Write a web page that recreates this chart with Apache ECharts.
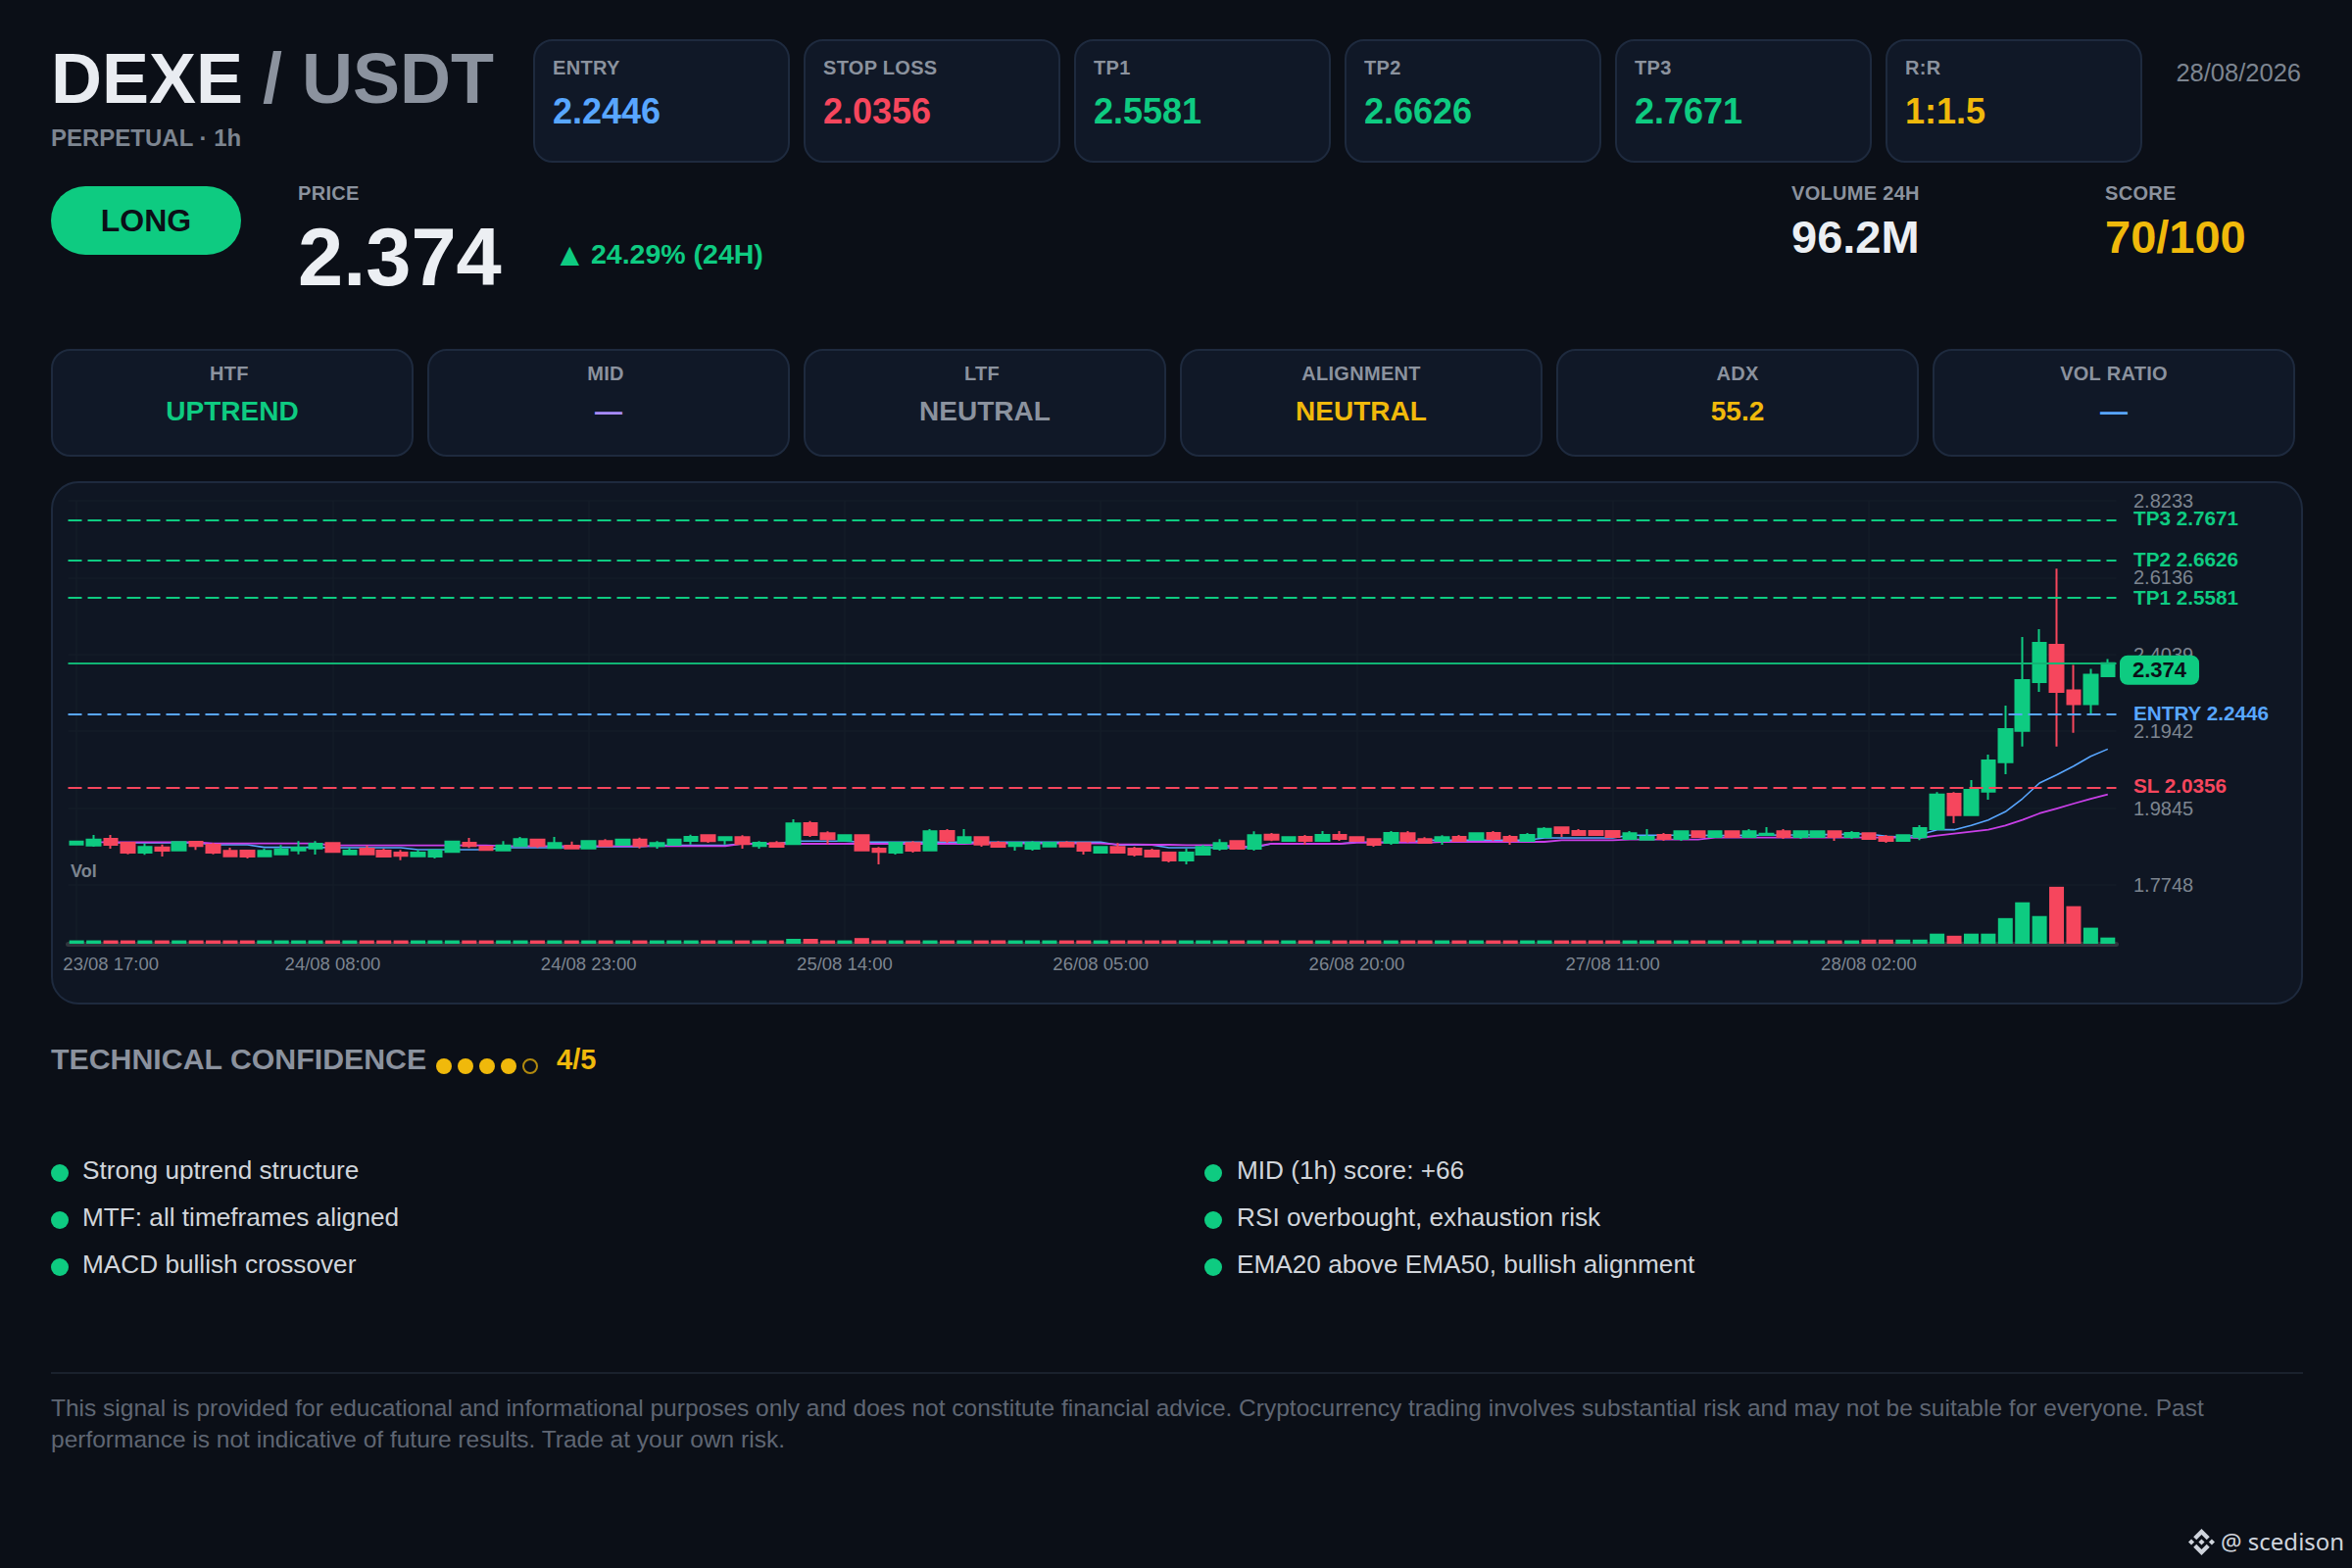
<!DOCTYPE html>
<html><head><meta charset="utf-8">
<script src="https://cdn.jsdelivr.net/npm/echarts@6/dist/echarts.min.js"></script>
<style>
*{box-sizing:border-box;margin:0;padding:0}
html,body{width:2400px;height:1600px;background:#0b0f17;overflow:hidden;font-family:"Liberation Sans",Arial,sans-serif}
.t{position:absolute;white-space:nowrap;line-height:1}
.card{position:absolute;background:#101827;border:2px solid #1e2a3e;border-radius:20px}
.mid{transform:translateY(-50%)}
.ctr{transform:translate(-50%,-50%)}
.g{color:#0ecb81}.r{color:#f6465d}.b{color:#58a6ff}.y{color:#f0b90b}.gr{color:#8b929e}.pu{color:#a78bfa}
.dot{position:absolute;border-radius:50%}
#chart{position:absolute;left:0;top:0;width:2400px;height:1600px}
</style></head><body>
<div id="page"></div>
<div class="card" style="left:52px;top:491px;width:2298px;height:534px;border-radius:28px;background:#0f1623"></div>
<div id="chart"></div>
<script>
const firstHour = {day:23, hour:17};
const yTicks = [1.7748,1.9845,2.1942,2.4039,2.6136,2.8233];
const tp3 = 2.7671, tp2 = 2.6626, tp1 = 2.5581, entry = 2.2446, stopLoss = 2.0356;
const lastPriceLine = 2.38, lastPriceText = '2.374';
const opens = [
1.8854,1.8827,1.9005,1.8899,1.8631,1.8774,1.8694,1.8925,1.8845,1.8676,
1.8685,1.8533,1.8587,1.8694,1.8747,1.8890,1.8587,1.8738,1.8685,1.8631,
1.8533,1.8524,1.8649,1.8899,1.8792,1.8694,1.8809,1.8988,1.8756,1.8818,
1.8747,1.8943,1.8845,1.8988,1.8809,1.8845,1.8952,1.9104,1.8970,1.9050,
1.8809,1.8890,1.8863,1.9433,1.9157,1.8961,1.9104,1.8738,1.8631,1.8890,
1.8694,1.9219,1.8899,1.9050,1.8899,1.8809,1.8738,1.8801,1.8899,1.8890,
1.8631,1.8783,1.8738,1.8685,1.8631,1.8417,1.8578,1.8738,1.8943,1.8738,
1.9121,1.8952,1.9059,1.8952,1.9112,1.9050,1.8997,1.8899,1.9157,1.8997,
1.8952,1.9059,1.8988,1.9166,1.9059,1.8952,1.9059,1.9317,1.9219,1.9219,
1.9219,1.9005,1.8988,1.9112,1.9005,1.9210,1.9059,1.9210,1.9059,1.9112,
1.9210,1.9059,1.9059,1.9210,1.9059,1.9157,1.9059,1.8952,1.9050,1.9273,
2.0235,1.9656,2.0297,2.1099,2.1955,2.3282,2.4298,2.3060,2.2685,2.3443];
const closes = [
1.8934,1.8988,1.8845,1.8631,1.8783,1.8685,1.8917,1.8809,1.8631,1.8533,
1.8524,1.8676,1.8720,1.8765,1.8872,1.8649,1.8685,1.8587,1.8524,1.8542,
1.8631,1.8694,1.8934,1.8809,1.8703,1.8827,1.8997,1.8809,1.8890,1.8747,
1.8943,1.8809,1.8988,1.8809,1.8890,1.8988,1.9059,1.8943,1.9050,1.8863,
1.8899,1.8792,1.9424,1.9112,1.8997,1.9104,1.8694,1.8649,1.8899,1.8685,
1.9210,1.8961,1.9050,1.8854,1.8792,1.8899,1.8899,1.8899,1.8801,1.8685,
1.8783,1.8631,1.8578,1.8524,1.8417,1.8631,1.8783,1.8890,1.8738,1.9104,
1.8988,1.9050,1.8952,1.9112,1.9005,1.8952,1.8845,1.9166,1.8952,1.8899,
1.9050,1.8952,1.9157,1.9005,1.8952,1.9112,1.9282,1.9166,1.9112,1.9112,
1.9059,1.9157,1.9059,1.9005,1.9210,1.9059,1.9210,1.9059,1.9210,1.9148,
1.9059,1.9210,1.9210,1.9059,1.9166,1.9005,1.8952,1.9104,1.9300,2.0217,
1.9656,2.0342,2.1144,2.1999,2.3336,2.4352,2.3015,2.2685,2.3487,2.3799];
const lows = [
1.8854,1.8792,1.8738,1.8587,1.8569,1.8524,1.8694,1.8703,1.8587,1.8533,
1.8471,1.8533,1.8587,1.8587,1.8578,1.8649,1.8587,1.8587,1.8524,1.8426,
1.8533,1.8471,1.8631,1.8756,1.8703,1.8694,1.8792,1.8756,1.8756,1.8747,
1.8747,1.8809,1.8845,1.8747,1.8738,1.8845,1.8854,1.8899,1.8854,1.8738,
1.8738,1.8792,1.8863,1.9059,1.8854,1.8961,1.8676,1.8310,1.8578,1.8631,
1.8694,1.8899,1.8899,1.8792,1.8792,1.8685,1.8685,1.8801,1.8801,1.8578,
1.8631,1.8631,1.8524,1.8524,1.8364,1.8310,1.8578,1.8685,1.8738,1.8685,
1.8943,1.8952,1.8845,1.8952,1.8952,1.8952,1.8792,1.8845,1.8899,1.8899,
1.8845,1.8952,1.8988,1.8952,1.8845,1.8952,1.9059,1.9059,1.9112,1.9112,
1.9059,1.9005,1.8988,1.8952,1.8952,1.9059,1.9059,1.9059,1.9059,1.9112,
1.9005,1.9005,1.9059,1.8952,1.9005,1.9005,1.8899,1.8952,1.8970,1.9255,
1.9433,1.9656,2.0075,2.0770,2.1527,2.3015,2.1527,2.1901,2.2391,2.3443];
const highs = [
1.8934,1.9112,1.9112,1.8899,1.8872,1.8854,1.8917,1.8925,1.8899,1.8765,
1.8685,1.8738,1.8836,1.8943,1.8943,1.8890,1.8765,1.8827,1.8738,1.8703,
1.8703,1.8694,1.8952,1.9032,1.8809,1.8943,1.9059,1.8988,1.9059,1.8934,
1.8943,1.8997,1.8988,1.9041,1.8943,1.8988,1.9121,1.9104,1.9050,1.9104,
1.8943,1.8943,1.9540,1.9496,1.9210,1.9104,1.9104,1.8783,1.8899,1.8943,
1.9273,1.9273,1.9273,1.9050,1.8943,1.8899,1.8943,1.8899,1.8943,1.8890,
1.8783,1.8890,1.8792,1.8738,1.8631,1.8738,1.8836,1.8997,1.8943,1.9210,
1.9166,1.9050,1.9112,1.9219,1.9219,1.9050,1.8997,1.9219,1.9219,1.9050,
1.9104,1.9112,1.9157,1.9219,1.9112,1.9166,1.9326,1.9317,1.9273,1.9219,
1.9219,1.9219,1.9273,1.9166,1.9210,1.9210,1.9210,1.9210,1.9273,1.9326,
1.9273,1.9210,1.9210,1.9210,1.9219,1.9157,1.9112,1.9104,1.9380,2.0280,
2.0280,2.0609,2.1304,2.2641,2.4512,2.4726,2.6383,2.3755,2.3648,2.3915];
const volumes = [
1.3,1.3,1.3,1.3,1.3,1.3,1.3,1.3,1.3,1.3,
1.3,1.3,1.3,1.3,1.3,1.3,1.3,1.3,1.3,1.3,
1.3,1.3,1.3,1.3,1.3,1.3,1.3,1.3,1.3,1.3,
1.3,1.3,1.3,1.3,1.3,1.3,1.3,1.3,1.3,1.3,
1.3,1.3,1.9,1.9,1.3,1.3,2.2,1.3,1.3,1.3,
1.3,1.3,1.3,1.3,1.3,1.3,1.3,1.3,1.3,1.3,
1.3,1.3,1.3,1.3,1.3,1.3,1.3,1.3,1.3,1.3,
1.3,1.3,1.3,1.3,1.3,1.3,1.3,1.3,1.3,1.3,
1.3,1.3,1.3,1.3,1.3,1.3,1.3,1.3,1.3,1.3,
1.3,1.3,1.3,1.3,1.3,1.3,1.3,1.3,1.3,1.3,
1.3,1.3,1.3,1.3,1.3,1.6,1.6,1.6,1.6,3.9,
3.1,3.9,3.9,9.9,16.0,10.7,22.0,14.5,6.2,2.4];
const ema20 = [
null,null,1.8899,1.8899,1.8899,1.8899,1.8899,1.8899,1.8845,1.8845,
1.8845,1.8774,1.8774,1.8774,1.8774,1.8765,1.8765,1.8765,1.8765,1.8765,
1.8711,1.8711,1.8711,1.8711,1.8711,1.8765,1.8765,1.8765,1.8765,1.8765,
1.8792,1.8792,1.8792,1.8792,1.8827,1.8827,1.8827,1.8827,1.8827,1.8872,
1.8872,1.8872,1.8943,1.8943,1.8943,1.8943,1.8917,1.8917,1.8917,1.8917,
1.8917,1.8917,1.8917,1.8917,1.8917,1.8917,1.8917,1.8917,1.8917,1.8917,
1.8917,1.8836,1.8836,1.8836,1.8765,1.8765,1.8765,1.8765,1.8765,1.8765,
1.8872,1.8872,1.8872,1.8872,1.8872,1.8917,1.8917,1.8917,1.8917,1.8970,
1.8970,1.8970,1.8970,1.8970,1.8970,1.8970,1.9032,1.9032,1.9032,1.9032,
1.9032,1.9104,1.9104,1.9104,1.9104,1.9104,1.9095,1.9095,1.9104,1.9104,
1.9112,1.9112,1.9121,1.9121,1.9139,1.9139,1.9077,1.9059,1.9121,1.9255,
1.9255,1.9371,1.9522,1.9745,2.0101,2.0529,2.0752,2.0992,2.1260,2.1456];
const ema50 = [
null,1.8917,1.8917,1.8917,1.8917,1.8917,1.8917,1.8917,1.8881,1.8881,
1.8881,1.8881,1.8881,1.8881,1.8881,1.8827,1.8827,1.8827,1.8827,1.8827,
1.8827,1.8827,1.8827,1.8827,1.8827,1.8809,1.8809,1.8809,1.8809,1.8809,
1.8809,1.8809,1.8809,1.8809,1.8809,1.8809,1.8809,1.8809,1.8809,1.8872,
1.8872,1.8872,1.8872,1.8872,1.8872,1.8872,1.8872,1.8872,1.8872,1.8872,
1.8872,1.8872,1.8872,1.8881,1.8881,1.8881,1.8881,1.8881,1.8881,1.8881,
1.8881,1.8854,1.8854,1.8845,1.8845,1.8836,1.8836,1.8836,1.8792,1.8792,
1.8872,1.8872,1.8872,1.8872,1.8872,1.8899,1.8899,1.8899,1.8899,1.8899,
1.8925,1.8925,1.8925,1.8925,1.8925,1.8925,1.8925,1.8970,1.8970,1.8970,
1.8970,1.8988,1.8988,1.8988,1.8988,1.8988,1.9041,1.9041,1.9041,1.9041,
1.9041,1.9041,1.9041,1.9041,1.9041,1.9041,1.9041,1.9041,1.9032,1.9095,
1.9148,1.9202,1.9255,1.9371,1.9522,1.9701,1.9834,1.9968,2.0101,2.0217];
const signalCards = [['ENTRY','2.2446','b'],['STOP LOSS','2.0356','r'],['TP1','2.5581','g'],['TP2','2.6626','g'],['TP3','2.7671','g'],['R:R','1:1.5','y']];
const statusCards = [['HTF','UPTREND','g'],['MID','—','pu'],['LTF','NEUTRAL','gr'],['ALIGNMENT','NEUTRAL','y'],['ADX','55.2','y'],['VOL RATIO','—','b']];
const reasonsLeft = ['Strong uptrend structure','MTF: all timeframes aligned','MACD bullish crossover'];
const reasonsRight = ['MID (1h) score: +66','RSI overbought, exhaustion risk','EMA20 above EMA50, bullish alignment'];

const page = document.getElementById('page');
function add(html){page.insertAdjacentHTML('beforeend',html);}
function text(x,y,str,style,cls){add(`<div class="t ${cls||''}" style="left:${x}px;top:${y}px;${style||''}">${str}</div>`);}
const LBL='font-size:20px;font-weight:700;color:#8b929e;letter-spacing:.3px;';

text(52,80,'<span style="color:#e9ecf1">DEXE</span><span style="color:#8b929e"> / USDT</span>','font-size:72px;font-weight:700;','mid');
text(52,141,'PERPETUAL · 1h','font-size:24px;font-weight:700;color:#7d8590;','mid');
text(2348,75,'28/08/2026','font-size:25.500px;color:#7d8590;transform:translate(-100%,-50%);');
signalCards.forEach((c,i)=>{
  const x=544+276*i;
  add(`<div class="card" style="left:${x}px;top:40px;width:262px;height:126px"></div>`);
  text(x+20,69,c[0],LBL,'mid');
  text(x+20,114,c[1],'font-size:36px;font-weight:700;','mid '+c[2]);
});
add('<div style="position:absolute;left:52px;top:190px;width:194px;height:70px;border-radius:35px;background:#0ecb81"></div>');
text(149,225,'LONG','font-size:32px;font-weight:700;color:#0b0f17;','ctr');
text(304,197,'PRICE',LBL,'mid');
text(304,262,lastPriceText,'font-size:83px;font-weight:700;color:#eceff3;','mid');
text(565,259,'▲','font-size:33px;font-weight:700;','mid g');
text(603,259,'24.29% (24H)','font-size:28.500px;font-weight:700;','mid g');
text(1828,197,'VOLUME 24H',LBL,'mid');
text(1828,241,'96.2M','font-size:47px;font-weight:700;color:#eceff3;','mid');
text(2148,197,'SCORE',LBL,'mid');
text(2148,241,'70/100','font-size:47px;font-weight:700;','mid y');
statusCards.forEach((c,i)=>{
  const x=52+384*i;
  add(`<div class="card" style="left:${x}px;top:356px;width:370px;height:110px"></div>`);
  text(x+(i<3?182:185),381,c[0],LBL,'ctr');
  text(x+185,420,c[1],'font-size:28px;font-weight:700;','ctr '+c[2]);
});
text(52,1081,'TECHNICAL CONFIDENCE','font-size:30.300px;font-weight:700;color:#8b929e;','mid');
[0,1,2,3].forEach(i=>add(`<div class="dot" style="left:${444.5+22*i}px;top:1080px;width:16px;height:16px;background:#f0b90b"></div>`));
add('<div class="dot" style="left:532.5px;top:1080px;width:16px;height:16px;border:2px solid #b28a0e"></div>');
text(568,1081,'4/5','font-size:29px;font-weight:700;','mid y');
function reasons(list,dotX,textX){
  list.forEach((r,i)=>{
    const y=[1194,1242,1290][i];
    add(`<div class="dot" style="left:${dotX-9}px;top:${y-6}px;width:18px;height:18px;background:#0ecb81"></div>`);
    text(textX,y,r,'font-size:26.200px;color:#d1d5db;','mid');
  });
}
reasons(reasonsLeft,61,84);
reasons(reasonsRight,1238,1262);
add('<div style="position:absolute;left:52px;top:1400px;width:2298px;height:2px;background:#1a212d"></div>');
add('<div style="position:absolute;left:52px;top:1421px;font-size:24.500px;line-height:32px;color:#5f6673;white-space:nowrap">This signal is provided for educational and informational purposes only and does not constitute financial advice. Cryptocurrency trading involves substantial risk and may not be suitable for everyone. Past<br>performance is not indicative of future results. Trade at your own risk.</div>');
add('<svg style="position:absolute;left:2233px;top:1560px" width="27" height="27" viewBox="0 0 24 24" fill="#cfd4dc"><path d="M16.624 13.9202l2.7175 2.7154-7.353 7.353-7.353-7.352 2.7175-2.7164 4.6355 4.6595 4.6356-4.6595zm4.6366-4.6366L24 12l-2.7154 2.7164L18.5682 12l2.6924-2.7164zm-9.272.001l2.7163 2.6914-2.7164 2.7174v-.001L9.2721 12l2.7164-2.7154zm-9.2722-.001L5.4088 12l-2.6914 2.6924L0 12l2.7164-2.7164zM11.9885.0115l7.353 7.329-2.7174 2.7154-4.6356-4.6356-4.6355 4.6595-2.7174-2.7154 7.353-7.353z"/></svg>');
text(2266,1573,'@ scedison','font-size:24px;color:#cfd4dc;font-family:\'Noto Sans\';','mid');

const categories = opens.map((_,i)=>{
  const h=firstHour.hour+i, d=firstHour.day+Math.floor(h/24), hh=h%24;
  return String(d).padStart(2,'0')+'/08 '+String(hh).padStart(2,'0')+':00';
});
const UP='#0ecb81', DOWN='#f6465d', BLUE='#58a6ff', PURPLE='#c93fe8', FAINT='#151c29', AXIS='#7d8590';
const font='"Liberation Sans",Arial,sans-serif';
const lvl=(v,name,color,dy)=>({yAxis:v,lineStyle:{color,type:[14,6],width:2},
  label:{show:true,position:'end',distance:17.5,formatter:name+' '+v.toFixed(4),color,fontFamily:font,fontSize:20.700,fontWeight:700,offset:[0,dy]}});
const chart=echarts.init(document.getElementById('chart'),null,{renderer:'svg',width:2400,height:1600});
chart.setOption({
  animation:false,backgroundColor:'transparent',
  title:{text:'Vol',left:72,top:880,padding:0,textStyle:{color:AXIS,fontSize:18,fontWeight:700,fontFamily:font}},
  grid:[{left:69.5,width:2090,top:511,height:392},{left:69.5,width:2090,top:903,height:60}],
  xAxis:[
   {type:'category',gridIndex:0,data:categories,boundaryGap:true,axisLine:{show:false},axisTick:{show:false,alignWithLabel:true,interval:14},axisLabel:{show:false,interval:14},splitLine:{show:true,alignWithLabel:true,interval:14,lineStyle:{color:FAINT,width:1.5}}},
   {type:'category',gridIndex:1,data:categories,boundaryGap:true,offset:6,axisLine:{lineStyle:{color:'#30353e',width:5}},axisTick:{show:false,alignWithLabel:true,interval:14},
    axisLabel:{interval:14,color:AXIS,fontSize:18.500,fontFamily:font,margin:5,
      formatter:(v,i)=>i===0?'{first|'+v+'}':v,rich:{first:{color:AXIS,fontSize:18.500,fontFamily:font,padding:[0,0,0,70]}}},
    splitLine:{show:true,alignWithLabel:true,interval:14,lineStyle:{color:FAINT,width:1.5}}}
  ],
  yAxis:[
   {type:'value',gridIndex:0,position:'right',min:yTicks[0],max:yTicks[5],scale:true,axisLine:{show:false},
    axisTick:{show:false,customValues:yTicks},
    axisLabel:{customValues:yTicks,color:AXIS,fontSize:20,fontFamily:font,margin:17.5,formatter:v=>v.toFixed(4)},
    splitLine:{show:true,lineStyle:{color:FAINT,width:1.5}}},
   {type:'value',gridIndex:1,min:0,max:22.7,show:false,splitLine:{show:false}}
  ],
  series:[
   {type:'line',name:'EMA20',data:ema20,showSymbol:false,symbol:'none',lineStyle:{color:BLUE,width:1.6},z:2},
   {type:'line',name:'EMA50',data:ema50,showSymbol:false,symbol:'none',lineStyle:{color:PURPLE,width:1.8},z:2},
   {type:'candlestick',name:'DEXE',barWidth:14,z:3,
    data:opens.map((o,i)=>[o,closes[i],lows[i],highs[i]]),
    itemStyle:{color:UP,color0:DOWN,borderColor:UP,borderColor0:DOWN,borderWidth:2},
    markLine:{silent:true,symbol:'none',animation:false,z:6,data:[
      lvl(tp3,'TP3',UP,-2),lvl(tp2,'TP2',UP,-2),lvl(tp1,'TP1',UP,0),lvl(entry,'ENTRY',BLUE,-2),lvl(stopLoss,'SL',DOWN,-2),
      {yAxis:lastPriceLine,lineStyle:{color:'#10b574',type:'solid',width:2},
       label:{show:true,position:'end',distance:3.5,formatter:lastPriceText,offset:[0,7],backgroundColor:UP,color:'#0b0f17',fontFamily:font,fontSize:22,fontWeight:700,padding:[5,13,3,13],borderRadius:8}}
    ]}},
   {type:'bar',name:'Vol',xAxisIndex:1,yAxisIndex:1,barWidth:15,
    data:volumes.map((v,i)=>({value:v,itemStyle:{color:closes[i]>=opens[i]?UP:DOWN}}))}
  ]
});
</script></body></html>
